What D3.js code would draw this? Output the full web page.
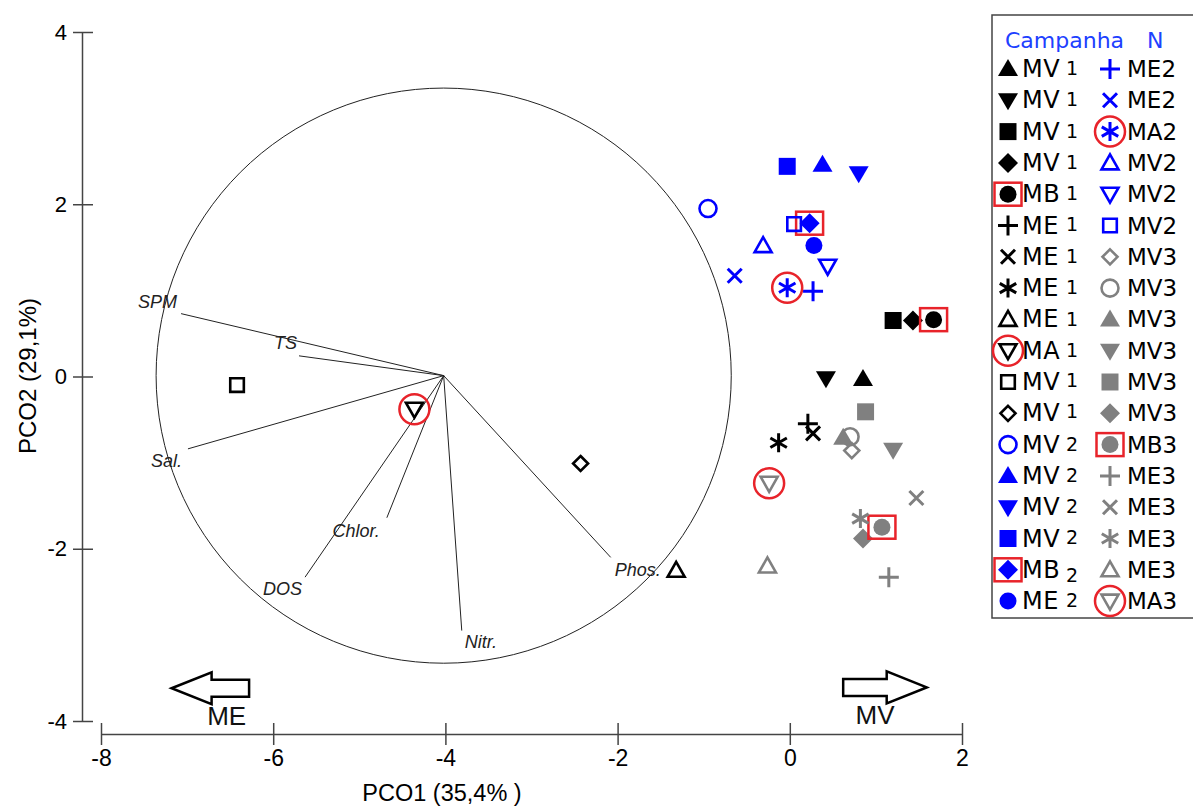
<!DOCTYPE html>
<html>
<head>
<meta charset="utf-8">
<script src="https://cdn.jsdelivr.net/npm/d3@7"></script>
<style>
  body { margin: 0; background: #fff; }
  svg { display: block; }
</style>
</head>
<body>
<div id="chart"></div>
<script>
// axis ticks
var xTicks = [-8, -6, -4, -2, 0, 2];
var yTicks = [-4, -2, 0, 2, 4];

// samples (order = legend order, left column then right column)
var sampleSite = ["MV","MV","MV","MV","MB","ME","ME","ME","ME","MA","MV","MV",
                  "MV","MV","MV","MV","MB","ME","ME","ME","MA","MV","MV","MV",
                  "MV","MV","MV","MV","MV","MV","MB","ME","ME","ME","ME","MA"];
var sampleCampaign = [1,1,1,1,1,1,1,1,1,1,1,1, 2,2,2,2,2,2,2,2,2,2,2,2, 3,3,3,3,3,3,3,3,3,3,3,3];
var sampleShape = ["triUp","triDown","square","diamond","circle","plus","cross","star","triUp","triDown","square","diamond",
                   "circle","triUp","triDown","square","diamond","circle","plus","cross","star","triUp","triDown","square",
                   "diamond","circle","triUp","triDown","square","diamond","circle","plus","cross","star","triUp","triDown"];
var sampleFilled = [1,1,1,1,1,0,0,0,0,0,0,0, 0,1,1,1,1,1,0,0,0,0,0,0, 0,0,1,1,1,1,1,0,0,0,0,0];
var sampleMark = ["","","","","sq","","","","","circ","","",
                  "","","","","sq","","","","circ","","","",
                  "","","","","","","sq","","","","","circ"];
var pco1 = [0.85, 0.42, 1.20, 1.43, 1.67, 0.21, 0.27, -0.13, -1.32, -4.36, -6.42, -2.43,
            -0.95, 0.38, 0.80, -0.03, 0.23, 0.28, 0.27, -0.64, -0.03, -0.31, 0.44, 0.05,
            0.72, 0.70, 0.62, 1.20, 0.88, 0.85, 1.07, 1.15, 1.47, 0.82, -0.26, -0.24];
var pco2 = [-0.03, -0.02, 0.65, 0.65, 0.66, -0.55, -0.66, -0.77, -2.25, -0.38, -0.10, -1.01,
            1.95, 2.46, 2.36, 2.44, 1.78, 1.52, 0.99, 1.17, 1.03, 1.52, 1.28, 1.77,
            -0.86, -0.70, -0.71, -0.85, -0.41, -1.88, -1.75, -2.33, -1.41, -1.65, -2.20, -1.24];

// environmental vectors (end points, PCO units)
var vecName = ["SPM", "TS", "Sal.", "Chlor.", "DOS", "Nitr.", "Phos."];
var vecX = [-7.07, -5.70, -6.99, -4.68, -5.63, -3.81, -2.08];
var vecY = [0.73, 0.24, -0.84, -1.64, -2.33, -2.95, -2.10];
var vecOrigin = [-4.02, 0.01];
var circleRadius = 3.34;

// direction arrows
var arrowLabel = ["ME", "MV"];
var arrowTip = [-7.18, 1.59];
var arrowTail = [-6.28, 0.62];
var arrowY = [-3.62, -3.61];
var arrowTextX = [-6.54, 0.99];

// small baseline shifts of the campaign digit in the left legend column
var digitShift = [-2,-2,-2,-2,-2,-3,-2,-2,-1,-2,-3,-3,-2,-2,-2,-3,4,-2];

var colors = {1: "#000000", 2: "#0000ff", 3: "#808080"};
var red = "#e8232a";

var width = 1193, height = 806;
var svg = d3.select("#chart").append("svg")
    .attr("width", width)
    .attr("height", height);
svg.append("rect").attr("width", width).attr("height", height).attr("fill", "#fff");

var x = d3.scaleLinear().domain([-8, 2]).range([101, 962]);
var y = d3.scaleLinear().domain([-4, 4]).range([721, 32]);
var pxPerUnit = x(1) - x(0);
var axisFont = "'Liberation Sans', Arial, sans-serif";

// axes
var yAxis = svg.append("g")
    .attr("transform", "translate(82,0)")
    .call(d3.axisLeft(y).tickValues(yTicks).tickSize(9).tickSizeOuter(0).tickFormat(d => String(d)));
yAxis.selectAll(".tick line").attr("x1", 11);
yAxis.selectAll("text").attr("x", -15)
    .style("font-family", axisFont).style("font-size", "22px").attr("fill", "#000");

var xAxis = svg.append("g")
    .attr("transform", "translate(0,734)")
    .call(d3.axisBottom(x).tickValues(xTicks).tickSize(11).tickSizeOuter(0).tickFormat(d => String(d)));
xAxis.selectAll(".tick line").attr("y1", -11);
xAxis.selectAll("text").attr("y", 16)
    .style("font-family", axisFont).style("font-size", "23px").attr("fill", "#000");
svg.selectAll(".domain, .tick line").attr("stroke", "#444").attr("stroke-width", 1.5);

svg.append("text")
    .attr("x", 442).attr("y", 801)
    .attr("text-anchor", "middle")
    .style("font-family", axisFont).style("font-size", "23.5px")
    .text("PCO1 (35,4% )");
svg.append("text")
    .attr("transform", "translate(36,376) rotate(-90)")
    .attr("text-anchor", "middle")
    .style("font-family", axisFont).style("font-size", "24px")
    .text("PCO2 (29,1%)");

// correlation circle + vectors
svg.append("circle")
    .attr("cx", x(vecOrigin[0])).attr("cy", y(vecOrigin[1]))
    .attr("r", circleRadius * pxPerUnit)
    .attr("fill", "none").attr("stroke", "#222").attr("stroke-width", 1);

var vecLabelPos = [
    {dx: -4, dy: -6, anchor: "end"},
    {dx: -2, dy: -7, anchor: "end"},
    {dx: -6, dy: 18, anchor: "end"},
    {dx: -7, dy: 19, anchor: "end"},
    {dx: -3, dy: 18, anchor: "end"},
    {dx: 3, dy: 17, anchor: "start"},
    {dx: 4, dy: 19, anchor: "start"}
];
var vecG = svg.append("g");
vecName.forEach(function(name, i){
    vecG.append("line")
        .attr("x1", x(vecOrigin[0])).attr("y1", y(vecOrigin[1]))
        .attr("x2", x(vecX[i])).attr("y2", y(vecY[i]))
        .attr("stroke", "#222").attr("stroke-width", 1);
    vecG.append("text")
        .attr("x", x(vecX[i]) + vecLabelPos[i].dx)
        .attr("y", y(vecY[i]) + vecLabelPos[i].dy)
        .attr("text-anchor", vecLabelPos[i].anchor)
        .style("font-family", axisFont)
        .style("font-style", "italic").style("font-size", "18px")
        .attr("fill", "#222")
        .text(name);
});

// arrows ME / MV
arrowLabel.forEach(function(lab, i){
    var tip = x(arrowTip[i]), tail = x(arrowTail[i]), cy = y(arrowY[i]);
    var dir = tail > tip ? 1 : -1;      // +1 points left
    var headBack = tip + dir * 40;
    var p = d3.path();
    p.moveTo(tip, cy);
    p.lineTo(headBack, cy - 16);
    p.lineTo(headBack, cy - 8.5);
    p.lineTo(tail, cy - 8.5);
    p.lineTo(tail, cy + 8.5);
    p.lineTo(headBack, cy + 8.5);
    p.lineTo(headBack, cy + 16);
    p.closePath();
    svg.append("path").attr("d", p.toString())
        .attr("fill", "#fff").attr("stroke", "#000").attr("stroke-width", 2.5)
        .attr("stroke-linejoin", "miter");
    svg.append("text")
        .attr("x", x(arrowTextX[i])).attr("y", cy + 37)
        .attr("text-anchor", "middle")
        .style("font-family", "'Liberation Sans Narrow', 'Arial Narrow', 'Liberation Sans', sans-serif")
        .style("font-size", "26px").attr("fill", "#111")
        .text(lab);
});

// marker shapes
function markerPath(shape, filled){
    var p = d3.path();
    if (shape === "triUp") {
        var w = filled ? 10 : 8.5, t = filled ? 10 : 8.5, b = filled ? 7 : 6.5;
        p.moveTo(0, -t); p.lineTo(w, b); p.lineTo(-w, b); p.closePath();
    } else if (shape === "triDown") {
        var w2 = filled ? 10 : 8.5, t2 = filled ? 10 : 8.5, b2 = filled ? 7 : 6.5;
        p.moveTo(0, t2); p.lineTo(w2, -b2); p.lineTo(-w2, -b2); p.closePath();
    } else if (shape === "square") {
        var s = filled ? 8.5 : 6.8;
        p.rect(-s, -s, 2 * s, 2 * s);
    } else if (shape === "diamond") {
        var d = filled ? 10 : 7.5;
        p.moveTo(0, -d); p.lineTo(d, 0); p.lineTo(0, d); p.lineTo(-d, 0); p.closePath();
    } else if (shape === "circle") {
        p.arc(0, 0, 8.5, 0, 2 * Math.PI);
    } else if (shape === "plus") {
        p.moveTo(-10, 0); p.lineTo(10, 0); p.moveTo(0, -10); p.lineTo(0, 10);
    } else if (shape === "cross") {
        p.moveTo(-7, -7); p.lineTo(7, 7); p.moveTo(-7, 7); p.lineTo(7, -7);
    } else if (shape === "star") {
        [90, 30, 150].forEach(function(a){
            var rad = a * Math.PI / 180, L = 9.5;
            p.moveTo(-L * Math.cos(rad), -L * Math.sin(rad));
            p.lineTo(L * Math.cos(rad), L * Math.sin(rad));
        });
    }
    return p.toString();
}

function drawMarker(g, i){
    var col = colors[sampleCampaign[i]];
    var line = ["plus", "cross", "star"].indexOf(sampleShape[i]) >= 0;
    g.append("path")
        .attr("d", markerPath(sampleShape[i], sampleFilled[i]))
        .attr("fill", sampleFilled[i] ? col : "none")
        .attr("stroke", sampleFilled[i] ? "none" : col)
        .attr("stroke-width", line ? 3 : 2.6);
    if (sampleMark[i] === "sq") {
        g.append("rect").attr("x", -13.5).attr("y", -11.5).attr("width", 27).attr("height", 23)
            .attr("fill", "none").attr("stroke", red).attr("stroke-width", 2.5);
    } else if (sampleMark[i] === "circ") {
        g.append("circle").attr("r", 15)
            .attr("fill", "none").attr("stroke", red).attr("stroke-width", 2.5);
    }
}

// points
var ptG = svg.append("g");
sampleSite.forEach(function(site, i){
    var g = ptG.append("g").attr("transform", "translate(" + x(pco1[i]) + "," + y(pco2[i]) + ")");
    drawMarker(g, i);
});

// legend
var leg = svg.append("g");
leg.append("rect")
    .attr("x", 992).attr("y", 15).attr("width", 220).attr("height", 603)
    .attr("fill", "#fff").attr("stroke", "#444").attr("stroke-width", 1.5);
var legFont = "'DejaVu Sans', Verdana, sans-serif";
var title = leg.append("text")
    .attr("x", 1005).attr("y", 48)
    .style("font-family", legFont).style("font-size", "22px").attr("fill", "#2040ff");
title.append("tspan").text("Campanha");
title.append("tspan").attr("x", 1147).text("N");

var rowsPerCol = 18;
sampleSite.forEach(function(site, i){
    var col = Math.floor(i / rowsPerCol), row = i % rowsPerCol;
    var cy = 69 + row * 31.3;
    var sx = col === 0 ? 1008 : 1110;
    var g = leg.append("g").attr("transform", "translate(" + sx + "," + cy + ")");
    drawMarker(g, i);
    var t = leg.append("text")
        .attr("x", col === 0 ? 1022 : 1127).attr("y", cy + 8)
        .style("font-family", legFont).attr("fill", "#000");
    if (col === 0) {
        t.style("font-size", "24px");
        t.append("tspan").style("letter-spacing", "0.5px").text(site);
        t.append("tspan").attr("x", 1066).attr("dy", digitShift[row])
            .style("letter-spacing", "0px").style("font-size", "19px").text(sampleCampaign[i]);
    } else {
        t.style("font-size", "23px").text(site + sampleCampaign[i]);
    }
});
</script>
</body>
</html>
